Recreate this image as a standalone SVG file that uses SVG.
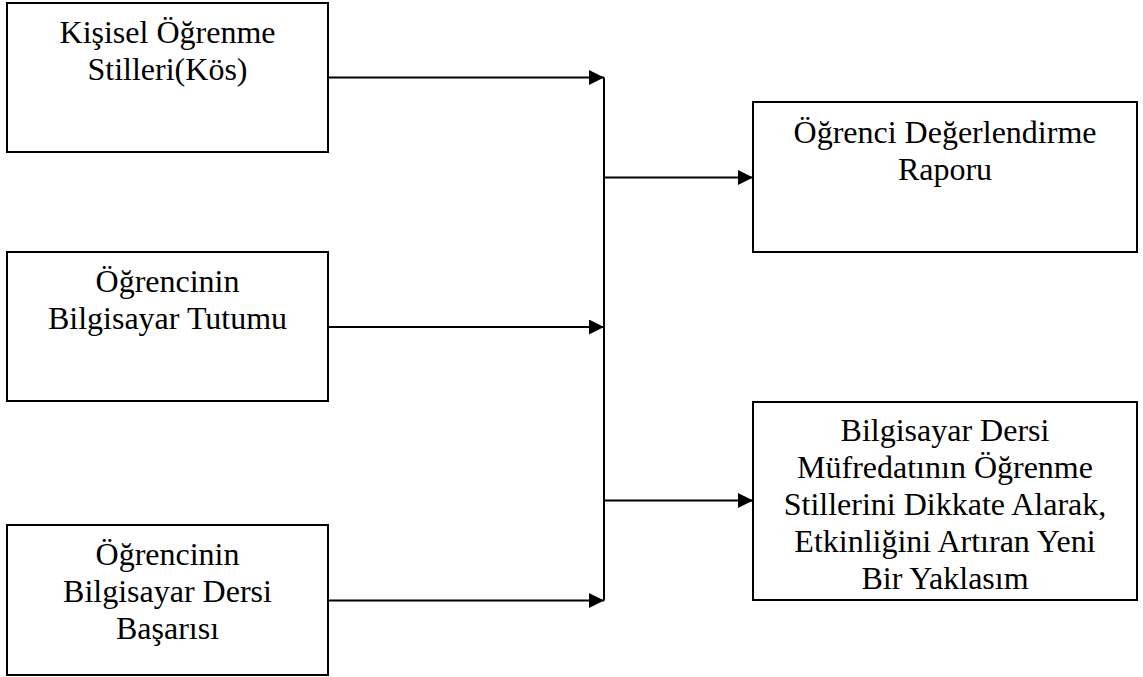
<svg xmlns="http://www.w3.org/2000/svg" width="1143" height="677" viewBox="0 0 1143 677">
  <style>
    .box { fill: #ffffff; stroke: #000000; stroke-width: 2; }
    .lbl { font-family: "Liberation Serif", "Times New Roman", serif; font-size: 32px; fill: #000000; text-anchor: middle; }
    .conn { fill: none; stroke: #000000; stroke-width: 2; }
  </style>
  <defs>
    <marker id="arrow" markerUnits="userSpaceOnUse" markerWidth="16" markerHeight="16" refX="15" refY="7.5" orient="auto">
      <path d="M0,0 L15,7.5 L0,15 Z" fill="#000000"/>
    </marker>
  </defs>
  <rect x="0" y="0" width="1143" height="677" fill="#ffffff"/>

  <g id="node-kos">
    <rect class="box" x="7" y="3" width="321" height="149"/>
    <text class="lbl" x="167.5" y="43">Kişisel Öğrenme</text>
    <text class="lbl" x="167.5" y="80">Stilleri(Kös)</text>
  </g>

  <g id="node-tutum">
    <rect class="box" x="7" y="252" width="321" height="149"/>
    <text class="lbl" x="167.5" y="292">Öğrencinin</text>
    <text class="lbl" x="167.5" y="329">Bilgisayar Tutumu</text>
  </g>

  <g id="node-basari">
    <rect class="box" x="7" y="525" width="321" height="150"/>
    <text class="lbl" x="167.5" y="565">Öğrencinin</text>
    <text class="lbl" x="167.5" y="602">Bilgisayar Dersi</text>
    <text class="lbl" x="167.5" y="639">Başarısı</text>
  </g>

  <g id="node-rapor">
    <rect class="box" x="753" y="102" width="384" height="150"/>
    <text class="lbl" x="945" y="143">Öğrenci Değerlendirme</text>
    <text class="lbl" x="945" y="180">Raporu</text>
  </g>

  <g id="node-yaklasim">
    <rect class="box" x="753" y="402" width="384" height="198"/>
    <text class="lbl" x="945" y="441">Bilgisayar Dersi</text>
    <text class="lbl" x="945" y="478">Müfredatının Öğrenme</text>
    <text class="lbl" x="945" y="515">Stillerini Dikkate Alarak,</text>
    <text class="lbl" x="945" y="552">Etkinliğini Artıran Yeni</text>
    <text class="lbl" x="945" y="589">Bir Yaklasım</text>
  </g>

  <g id="connectors">
    <line class="conn" x1="604" y1="77.5" x2="604" y2="600.5"/>
    <line class="conn" x1="328" y1="77.5" x2="604" y2="77.5" marker-end="url(#arrow)"/>
    <line class="conn" x1="328" y1="327" x2="604" y2="327" marker-end="url(#arrow)"/>
    <line class="conn" x1="328" y1="600.5" x2="604" y2="600.5" marker-end="url(#arrow)"/>
    <line class="conn" x1="604" y1="177.5" x2="753" y2="177.5" marker-end="url(#arrow)"/>
    <line class="conn" x1="604" y1="500.5" x2="753" y2="500.5" marker-end="url(#arrow)"/>
  </g>
</svg>
